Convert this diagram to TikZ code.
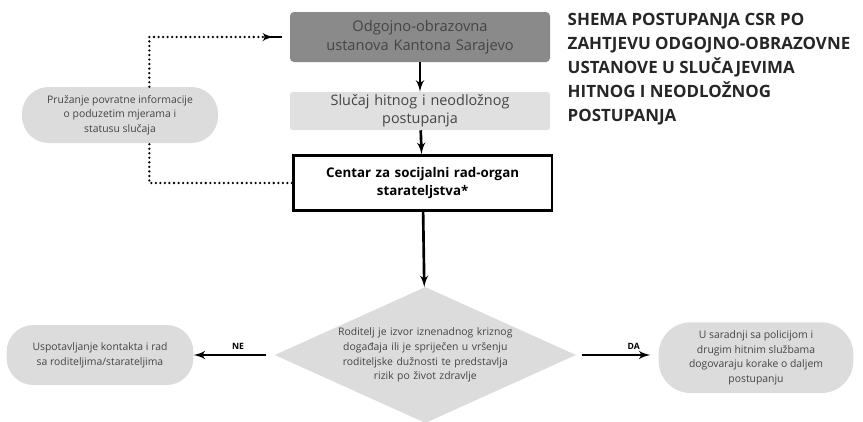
\documentclass[tikz,border=0pt]{standalone}
\usepackage{fontspec}
\setmainfont{Open Sans}
\usepackage{xcolor}
\usepackage{tikz}
\usetikzlibrary{shapes,arrows,positioning}
\definecolor{dark}{RGB}{138, 138, 138}
\definecolor{light}{RGB}{224, 224, 224}
\definecolor{pillgray}{RGB}{220, 220, 220}
\definecolor{txt}{RGB}{68, 68, 68}
\tikzstyle{institution} = [rectangle, fill=dark, text=txt, text width=190pt, align=center, rounded corners=3pt, minimum width=195pt, minimum height=37.5pt, inner sep=0pt, font=\fontsize{11}{14}\selectfont]
\tikzstyle{urgent} = [rectangle, fill=light, text=txt, text width=190pt, align=center, rounded corners=2pt, minimum width=195pt, minimum height=28.5pt, inner sep=0pt, font=\fontsize{10.8}{13.5}\selectfont]
\tikzstyle{centre} = [rectangle, draw, line width=2.2pt, text width=185pt, align=center, minimum width=194pt, minimum height=41pt, inner sep=0pt, font=\bfseries\fontsize{10}{14}\selectfont]
\tikzstyle{decision} = [diamond, fill=pillgray, text=txt, text width=145pt, align=center, shape aspect=2.2, minimum width=226pt, minimum height=102pt, inner sep=-8pt, font=\fontsize{7.8}{11}\selectfont]
\tikzstyle{pill} = [rectangle, fill=pillgray, text=txt, align=center, rounded corners=20pt, inner sep=0pt, font=\fontsize{7.8}{11}\selectfont]
\tikzstyle{line} = [draw, line width=2pt, -latex']
\tikzstyle{dotline} = [draw, line width=1.9pt, dash pattern=on 0pt off 3.4pt, line cap=round]

\begin{document}
\begin{tikzpicture}[x=0.75pt, y=-0.75pt, auto]
    \useasboundingbox (0,0) rectangle (863,421);
    \node [institution] at (420,37) (ustanova) {Odgojno-obrazovna\\ustanova Kantona Sarajevo};
    \node [urgent, below of=ustanova, node distance=55.5pt] (slucaj) {Slučaj hitnog i neodložnog\\postupanja};
    \node [centre, below of=slucaj, node distance=54pt, xshift=2pt] (csr) {Centar za socijalni rad-organ\\starateljstva*};
    \node [decision, below of=csr, node distance=129pt, xshift=2pt] (roditelj) {Roditelj je izvor iznenadnog kriznog\\događaja ili je spriječen u vršenju\\roditeljske dužnosti te predstavlja\\rizik po život zdravlje};
    \node [pill, left of=roditelj, node distance=244pt, minimum width=140pt, minimum height=45pt] (kontakt) {Uspotavljanje kontakta i rad\\sa roditeljima/starateljima};
    \node [pill, right of=roditelj, node distance=248pt, yshift=-2pt, minimum width=146pt, minimum height=53pt, rounded corners=24pt] (policija) {U saradnji sa policijom i\\drugim hitnim službama\\dogovaraju korake o daljem\\postupanju};
    \node [pill, minimum width=147pt, minimum height=42pt] at (120,115) (povratna) {Pružanje povratne informacije\\o poduzetim mjerama i\\statusu slučaja};
    \node [anchor=north west, align=left, font=\bfseries\fontsize{12.7}{18}\selectfont, text=black!85] at (563,9) (naslov) {SHEMA POSTUPANJA CSR PO\\ZAHTJEVU ODGOJNO-OBRAZOVNE\\USTANOVE U SLUČAJEVIMA\\HITNOG I NEODLOŽNOG\\POSTUPANJA};

    \path [line] (ustanova) -- (slucaj);
    \path [line] (slucaj) -- (csr);
    \path [line] (csr) -- (roditelj);
    \path [line, shorten <=6pt] (roditelj) -- node [above, pos=0.45, font=\bfseries\fontsize{6.5}{7}\selectfont] {NE} (kontakt);
    \path [line, shorten <=4pt, shorten >=6pt] (roditelj) -- node [above, pos=0.7, font=\bfseries\fontsize{6.5}{7}\selectfont] {DA} (policija.west |- roditelj);
    \path [dotline, shorten >=12pt] ([xshift=22pt]povratna.north) |- (ustanova.west);
    \path [draw, line width=1.9pt, -latex', shorten >=12pt] ([xshift=-6pt, yshift=0pt]ustanova.west) -- (ustanova.west);
    \path [dotline] (csr.west) -| ([xshift=22pt]povratna.south);
\end{tikzpicture}
\end{document}
